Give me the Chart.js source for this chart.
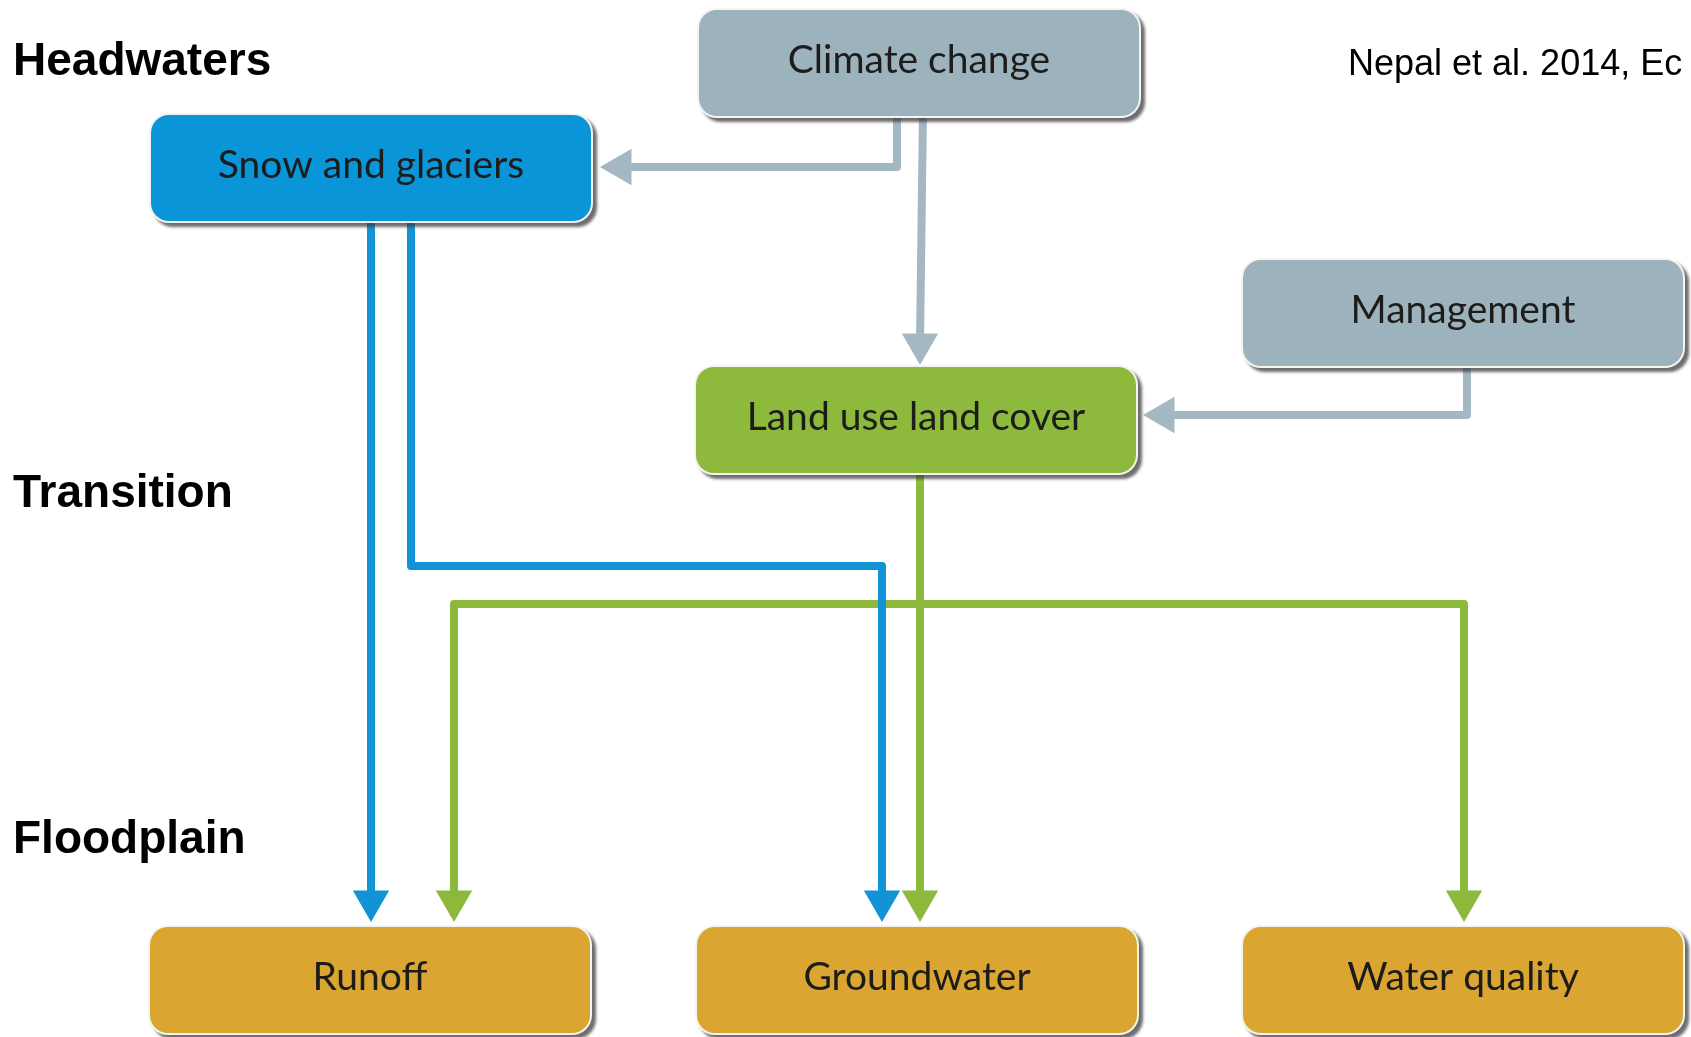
<!DOCTYPE html>
<html>
<head>
<meta charset="utf-8">
<script src="https://cdn.jsdelivr.net/npm/chart.js@4/dist/chart.umd.min.js"></script>
<style>
  html, body { margin: 0; padding: 0; background: #fff; }
  canvas { display: block; }
</style>
</head>
<body>
<canvas id="flowChart" width="1691" height="1037"></canvas>
<script>
'use strict';

// diagram nodes (centres in diagram units)
let nodeLabels = ['Climate change', 'Snow and glaciers', 'Management', 'Land use land cover', 'Runoff', 'Groundwater', 'Water quality'];
let nodeX = [919, 371, 1463, 916, 370, 917, 1463];
let nodeY = [63, 168, 313, 420, 980, 980, 980];
let nodeKind = ['driver', 'snow', 'driver', 'land', 'outcome', 'outcome', 'outcome'];

// zone labels on the left
let zoneLabels = ['Headwaters', 'Transition', 'Floodplain'];
let zoneY = [59, 491, 837];

let citation = 'Nepal et al. 2014, Ec';

// connectors: list of waypoints, last point = arrow head
let linkPaths = [
    [[897, 110], [897, 167], [621, 167]],
    [[923, 110], [920, 344]],
    [[1467, 360], [1467, 415], [1164, 415]],
    [[371, 215], [371, 901]],
    [[411, 215], [411, 566], [882, 566], [882, 901]],
    [[920, 465], [920, 901]],
    [[454, 901], [454, 604], [1464, 604], [1464, 901]]
];
let linkKind = ['driver', 'driver', 'driver', 'snow', 'snow', 'land', 'land'];
let linkHeads = ['end', 'end', 'end', 'end', 'end', 'end', 'both'];

const boxFill = { driver: '#9cb2bd', snow: '#0b95d9', land: '#8dba3d', outcome: '#dba532' };
const lineColor = { driver: '#a3b8c3', snow: '#1193d6', land: '#8cb83c' };
const BOX_W = 440;
const BOX_H = 106;
const HEAD = 21;

function headRotation(path, i) {
    // angle of the segment reaching point i
    let a = i === 0 ? path[1] : path[i - 1];
    let b = path[i];
    let dx = b[0] - a[0];
    let dy = b[1] - a[1];
    if (Math.abs(dx) > Math.abs(dy)) {
        return dx > 0 ? 90 : 270;
    }
    return dy > 0 ? 180 : 0;
}

let datasets = [];
for (let i = 0; i < linkPaths.length; i++) {
    let path = linkPaths[i];
    let radius = [];
    let rotation = [];
    for (let j = 0; j < path.length; j++) {
        let last = j === path.length - 1;
        let first = j === 0 && linkHeads[i] === 'both';
        radius.push(last || first ? HEAD : 0);
        rotation.push(headRotation(path, j));
    }
    datasets.push({
        data: path.map(p => ({ x: p[0], y: p[1] })),
        showLine: true,
        borderColor: lineColor[linkKind[i]],
        backgroundColor: lineColor[linkKind[i]],
        borderWidth: 8,
        borderJoinStyle: 'round',
        pointStyle: 'triangle',
        pointRadius: radius,
        pointRotation: rotation,
        pointBorderWidth: 0,
        pointBackgroundColor: lineColor[linkKind[i]]
    });
}

// boxes, zone labels and citation drawn on the scales
const boxPlugin = {
    id: 'boxes',
    afterDatasetsDraw(chart) {
        let ctx = chart.ctx;
        let xs = chart.scales.x;
        let ys = chart.scales.y;
        for (let i = 0; i < nodeLabels.length; i++) {
            let left = xs.getPixelForValue(nodeX[i] - BOX_W / 2);
            let right = xs.getPixelForValue(nodeX[i] + BOX_W / 2);
            let top = ys.getPixelForValue(nodeY[i] - BOX_H / 2);
            let bottom = ys.getPixelForValue(nodeY[i] + BOX_H / 2);
            let w = right - left;
            let h = bottom - top;

            ctx.save();
            ctx.shadowColor = 'rgba(60,60,60,0.75)';
            ctx.shadowBlur = 3;
            ctx.shadowOffsetX = 4;
            ctx.shadowOffsetY = 4;
            ctx.fillStyle = '#f4f4f0';
            ctx.beginPath();
            ctx.roundRect(left - 2, top - 2, w + 4, h + 4, 20);
            ctx.fill();
            ctx.restore();

            ctx.fillStyle = boxFill[nodeKind[i]];
            ctx.beginPath();
            ctx.roundRect(left, top, w, h, 18);
            ctx.fill();

            ctx.fillStyle = '#1c1c1a';
            ctx.font = '39px Lato';
            ctx.textAlign = 'center';
            ctx.textBaseline = 'middle';
            ctx.fillText(nodeLabels[i], xs.getPixelForValue(nodeX[i]), ys.getPixelForValue(nodeY[i] - 3));
        }

        ctx.fillStyle = '#000';
        ctx.font = 'bold 46px "Liberation Sans", Arial';
        ctx.textAlign = 'left';
        ctx.textBaseline = 'alphabetic';
        for (let i = 0; i < zoneLabels.length; i++) {
            ctx.fillText(zoneLabels[i], xs.getPixelForValue(13), ys.getPixelForValue(zoneY[i] + 16));
        }

        ctx.font = '36px "Liberation Sans", Arial';
        ctx.fillText(citation, xs.getPixelForValue(1348), ys.getPixelForValue(75));
    }
};

let ctx = document.getElementById('flowChart').getContext('2d');
let flowChart = new Chart(ctx, {
    type: 'scatter',
    data: { datasets: datasets },
    options: {
        responsive: false,
        animation: false,
        layout: { padding: 0, autoPadding: false },
        scales: {
            x: { type: 'linear', min: 0, max: 1691, display: false },
            y: { type: 'linear', min: 0, max: 1037, reverse: true, display: false }
        },
        plugins: {
            legend: { display: false },
            tooltip: { enabled: false }
        }
    },
    plugins: [boxPlugin]
});
</script>
</body>
</html>
